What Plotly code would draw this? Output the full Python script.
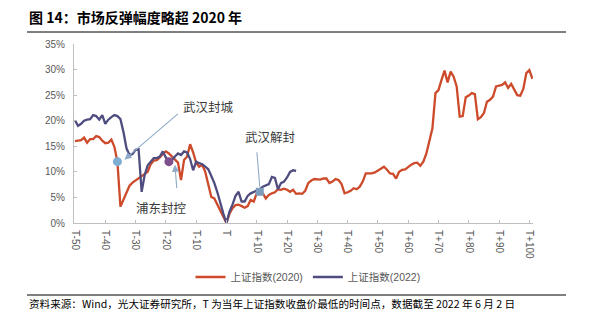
import plotly.graph_objects as go

# ---------------- data ----------------
t_2020 = list(range(-50, 102))
sh_2020 = [
    16.0, 16.1, 16.2, 16.7, 15.7, 16.4, 16.4, 17.0, 16.8, 16.1,   # -50..-41
    15.6, 15.7, 16.3, 14.9, 12.0, 3.2, 4.6, 6.2, 7.3, 7.9,       # -40..-31
    8.3, 8.7, 9.2, 9.5, 10.0, 11.5, 12.2, 12.3, 12.8, 13.5,      # -30..-21
    14.0, 13.6, 13.0, 12.4, 11.8, 8.4, 12.3, 13.0, 15.4, 13.8,   # -20..-11
    11.8, 11.0, 11.4, 10.0, 7.6, 5.1, 4.8, 3.6, 2.5, 1.2,        # -10..-1
    0.0, 1.8, 2.9, 3.5, 3.6, 3.3, 3.0, 3.3, 4.5, 4.2,            # 0..9
    5.8, 6.1, 5.8, 4.8, 5.5, 5.8, 6.0, 6.6, 6.5, 6.7,            # 10..19
    6.5, 6.1, 6.5, 5.7, 5.8, 5.7, 6.3, 7.8, 8.3, 8.6,            # 20..29
    8.6, 8.5, 8.7, 8.7, 7.8, 8.1, 8.6, 8.4, 7.6, 5.8,            # 30..39
    6.0, 6.3, 6.8, 6.6, 7.1, 8.1, 9.7, 9.7, 9.7, 9.9,            # 40..49
    10.3, 10.6, 11.0, 10.4, 9.7, 9.6, 8.7, 10.0, 10.4, 10.5,     # 50..59
    11.0, 11.4, 11.7, 11.8, 11.2, 12.0, 13.6, 16.2, 18.5, 25.4,  # 60..69
    26.0, 28.0, 29.8, 27.5, 29.6, 28.6, 26.7, 20.8, 20.9, 24.6,  # 70..79
    24.9, 25.4, 25.2, 20.3, 20.7, 21.5, 23.7, 24.1, 24.7, 26.7,  # 80..89
    26.9, 27.0, 27.5, 26.4, 27.2, 26.0, 25.0, 24.9, 26.2, 29.3,  # 90..99
    29.9, 28.2,                                                  # 100..101
]

t_2022 = list(range(-50, 24))
sh_2022 = [
    20.1, 19.0, 19.4, 20.0, 20.2, 20.3, 21.1, 20.9, 20.2, 21.1,  # -50..-41
    19.4, 20.2, 20.7, 21.1, 20.9, 20.3, 17.8, 14.6, 13.3, 13.5,  # -40..-31
    14.3, 14.4, 6.1, 9.4, 11.3, 12.0, 12.7, 12.7, 13.0, 14.0,    # -30..-21
    12.8, 12.0, 12.3, 13.0, 13.6, 13.3, 14.0, 13.8, 12.5, 10.3,  # -20..-11
    12.0, 11.7, 11.5, 11.0, 10.5, 9.2, 7.8, 6.0, 3.8, 1.8,       # -10..-1
    0.0, 2.2, 3.6, 5.3, 6.1, 4.2, 4.2, 5.3, 5.8, 6.1,            # 0..9
    6.4, 6.6, 7.1, 7.4, 7.6, 9.0, 8.8, 6.6, 7.8, 8.1,            # 10..19
    8.9, 10.0, 10.3, 10.2,                                       # 20..23
]

x_tickvals = list(range(-50, 101, 10))
x_ticktext = ["T-50", "T-40", "T-30", "T-20", "T-10", "T", "T+10", "T+20",
              "T+30", "T+40", "T+50", "T+60", "T+70", "T+80", "T+90", "T+100"]
y_tickvals = [0, 5, 10, 15, 20, 25, 30, 35]
y_ticktext = ["0%", "5%", "10%", "15%", "20%", "25%", "30%", "35%"]

series_names = ["上证指数(2020)", "上证指数(2022)"]
series_colors = ["#CD4A2A", "#4F4D7F"]

# events: label, series index, T
event_labels = ["武汉封城", "浦东封控", "武汉解封"]
event_series = [0, 1, 0]
event_T = [-36, -19, 11]

title = "<b>图 14：市场反弹幅度略超 2020 年</b>"
source = "资料来源：Wind，光大证券研究所，T 为当年上证指数收盘价最低的时间点，数据截至 2022 年 6 月 2 日"

# ---------------- figure ----------------
fig = go.Figure()
xs = [t_2020, t_2022]
ys = [sh_2020, sh_2022]
for i in range(2):
    fig.add_trace(go.Scatter(
        x=xs[i], y=ys[i], mode="lines", name=series_names[i],
        line=dict(color=series_colors[i], width=2.3),
        hoverinfo="skip",
    ))

def ev_point(k):
    s = event_series[k]
    idx = xs[s].index(event_T[k])
    return event_T[k], ys[s][idx]

ev_styles = [
    dict(color="#7EAED2", symbol="circle", size=9),
    dict(color="#7E4F8D", symbol="circle", size=9),
    dict(color="#7D9CBB", symbol="square", size=8),
]
for k in range(3):
    ex, ey = ev_point(k)
    fig.add_trace(go.Scatter(x=[ex], y=[ey], mode="markers", showlegend=False,
                             marker=ev_styles[k], hoverinfo="skip"))

arrow_color = "#90ABC9"
ann_font = dict(family="Noto Sans CJK SC", size=12.5, color="#3A3A3A")
# arrow specs: xshift, yshift (tip offset), ax, ay (tail rel. tip), head
arrow_specs = [(7, 2, 55, -47, 2), (6, -3, 2, 25, 2), (0, 5, -3, -36, 0)]
text_shifts = [(91, 55), (-7, -46), (10, 55)]
for k in range(3):
    ex, ey = ev_point(k)
    xs_, ys_, ax, ay, head = arrow_specs[k]
    fig.add_annotation(x=ex, y=ey, xref="x", yref="y", text="", showarrow=True,
                       ax=ax, ay=ay, xshift=xs_, yshift=ys_,
                       arrowcolor=arrow_color, arrowwidth=1.1,
                       arrowhead=head, arrowsize=1.3)
    tx, ty = text_shifts[k]
    fig.add_annotation(x=ex, y=ey, xref="x", yref="y", text=event_labels[k],
                       showarrow=False, xshift=tx, yshift=ty, font=ann_font)

# title / footer
L, B, W, H = 74, 106, 459, 179
def px2paper(px, py):
    return (px - L) / W, (329 - B - py) / H

tx0, ty0 = px2paper(27, 17)
fig.add_annotation(x=tx0, y=ty0, xref="paper", yref="paper", text=title,
                   showarrow=False, xanchor="left", yanchor="middle",
                   font=dict(family="Noto Sans CJK SC", size=14, color="#000000"))
sx0, sy0 = px2paper(27, 303)
fig.add_annotation(x=sx0, y=sy0, xref="paper", yref="paper", text=source,
                   showarrow=False, xanchor="left", yanchor="middle",
                   font=dict(family="Noto Sans CJK SC", size=10.6, color="#000000"))
for py in (32, 295):
    a, b_ = px2paper(27, py)
    c, _ = px2paper(566, py)
    fig.add_shape(type="line", xref="paper", yref="paper", x0=a, x1=c, y0=b_, y1=b_,
                  line=dict(color="#000000", width=1))

axis_gray = "#BFBFBF"
tick_font = dict(family="Liberation Sans, Arial, sans-serif", size=10, color="#595959")
fig.update_xaxes(range=[-50.33, 101.2], tickmode="array", tickvals=x_tickvals,
                 ticktext=x_ticktext, tickangle=90, showgrid=False, zeroline=False,
                 showline=True, linecolor=axis_gray, linewidth=1,
                 ticks="inside", ticklen=3, tickcolor=axis_gray,
                 tickfont=tick_font, ticklabelstandoff=4)
fig.update_yaxes(range=[0, 35], tickmode="array", tickvals=y_tickvals,
                 ticktext=y_ticktext, showgrid=False, zeroline=False,
                 showline=True, linecolor=axis_gray, linewidth=1,
                 ticks="inside", ticklen=3, tickcolor=axis_gray,
                 tickfont=tick_font, ticklabelstandoff=6)

lx, ly = px2paper(308, 277)
fig.update_layout(
    width=593, height=329, autosize=False,
    margin=dict(l=L, r=593 - L - W, t=329 - B - H, b=B),
    paper_bgcolor="white", plot_bgcolor="white",
    showlegend=True,
    legend=dict(orientation="h", x=lx, y=ly, xanchor="center", yanchor="middle",
                font=dict(family="Liberation Sans, Noto Sans CJK SC", size=10.5, color="#595959"),
                itemwidth=30, bgcolor="rgba(0,0,0,0)"),
)

fig.write_html("out.html")
